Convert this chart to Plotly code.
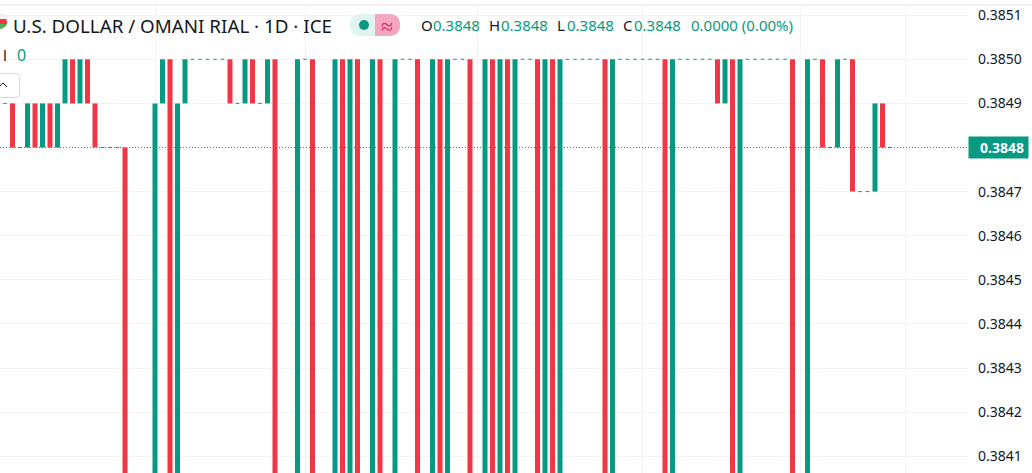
import plotly.graph_objects as go

GREEN = '#089981'
RED = '#F23645'
GRID = '#f3f3f4'
INK = '#131722'
LOW = 0.3840  # the deep bars run off the bottom, level is a guess

first_open = 0.3849
closes = [
    0.3849, 0.3848, 0.3848, 0.3849, 0.3848, 0.3849, 0.3848, 0.3849, 0.3850, 0.3849,
    0.3850, 0.3849, 0.3848, 0.3848, 0.3848, 0.3848, LOW, LOW, LOW, LOW,
    0.3849, 0.3850, LOW, 0.3849, 0.3850, 0.3850, 0.3850, 0.3850, 0.3850, 0.3850,
    0.3849, 0.3849, 0.3850, 0.3849, 0.3849, 0.3850, LOW, LOW, LOW, 0.3850,
    0.3850, LOW, LOW, LOW, 0.3850, LOW, 0.3850, LOW, LOW, 0.3850,
    LOW, LOW, 0.3850, 0.3850, 0.3850, LOW, LOW, 0.3850, LOW, 0.3850,
    0.3850, 0.3850, LOW, LOW, 0.3850, LOW, 0.3850, LOW, 0.3850, 0.3850,
    0.3850, LOW, 0.3850, LOW, 0.3850, 0.3850, 0.3850, 0.3850, 0.3850, 0.3850,
    LOW, 0.3850, 0.3850, 0.3850, 0.3850, 0.3850, 0.3850, 0.3850, LOW, 0.3850,
    0.3850, 0.3850, 0.3850, 0.3850, 0.3850, 0.3849, 0.3850, LOW, 0.3850, 0.3850,
    0.3850, 0.3850, 0.3850, 0.3850, 0.3850, LOW, LOW, 0.3850, 0.3850, 0.3848,
    0.3848, 0.3850, 0.3850, 0.3847, 0.3847, 0.3847, 0.3849, 0.3848, 0.3848,
]
opens = [first_open] + closes[:-1]
days = list(range(len(closes)))

# 0.3848 is left out, the last price tag sits on that level
price_ticks = [0.3841, 0.3842, 0.3843, 0.3844, 0.3845, 0.3846, 0.3847, 0.3849, 0.3850, 0.3851]
grid_days = [20, 40, 63, 85, 106, 120]
last_price = 0.3848

W, H = 1032, 473
RIGHT = 968
TOP = 5


def px(x):
    return x / RIGHT


def py(y):
    return 1 - (y - TOP) / (H - TOP)


def label(text, x, y, color=INK, size=15, anchor='left', family='Noto Sans'):
    return dict(text=text, x=px(x), y=py(y), xref='paper', yref='paper', showarrow=False,
                xanchor=anchor, yanchor='middle', align='left', borderpad=0,
                font=dict(family=family, size=size, color=color))


def pick(keep):
    idx = [i for i in days if keep(opens[i], closes[i])]
    return dict(x=[days[i] for i in idx],
                base=[min(opens[i], closes[i]) for i in idx],
                y=[abs(opens[i] - closes[i]) for i in idx])


fig = go.Figure()
fig.add_trace(go.Bar(**pick(lambda o, c: c > o), width=0.667, marker=dict(color=GREEN, line=dict(width=0))))
fig.add_trace(go.Bar(**pick(lambda o, c: c < o), width=0.667, marker=dict(color=RED, line=dict(width=0))))

flat = [i for i in days if opens[i] == closes[i]]
fig.add_trace(go.Scatter(
    x=[days[i] for i in flat], y=[closes[i] for i in flat], mode='markers',
    marker=dict(symbol='line-ew', size=2.5, line=dict(color=GREEN, width=1)),
))

shapes = [
    dict(type='line', xref='paper', yref='y', x0=0, x1=1, y0=last_price, y1=last_price,
         line=dict(color=GREEN, width=1, dash='1px,2px'), layer='above'),
    dict(type='line', xref='paper', yref='paper', x0=0, x1=W / RIGHT, y0=1, y1=1,
         line=dict(color='#e0e3eb', width=1)),
    # legend backdrop hides the grid under the text
    dict(type='rect', xref='paper', yref='paper', x0=px(0), x1=px(31), y0=py(68), y1=py(46),
         fillcolor='white', line=dict(width=0), layer='below'),
    # status pill
    dict(type='path', xref='paper', yref='paper', fillcolor='#dff3ef', line=dict(width=0),
         path=f'M {px(375)} {py(14)} L {px(361)} {py(14)} Q {px(350)} {py(14)} {px(350)} {py(25)} '
              f'Q {px(350)} {py(36)} {px(361)} {py(36)} L {px(375)} {py(36)} Z'),
    dict(type='path', xref='paper', yref='paper', fillcolor='#f3a6c0', line=dict(width=0),
         path=f'M {px(375)} {py(14)} L {px(389)} {py(14)} Q {px(400)} {py(14)} {px(400)} {py(25)} '
              f'Q {px(400)} {py(36)} {px(389)} {py(36)} L {px(375)} {py(36)} Z'),
    dict(type='circle', xref='paper', yref='paper', x0=px(359), x1=px(369), y0=py(30), y1=py(20),
         fillcolor=GREEN, line=dict(width=0)),
    # collapse button, cut off at the left edge
    dict(type='path', xref='paper', yref='paper', fillcolor='white', line=dict(color='#d6d8de', width=1),
         path=f'M {px(-4)} {py(73.5)} L {px(16)} {py(73.5)} Q {px(19.5)} {py(73.5)} {px(19.5)} {py(77)} '
              f'L {px(19.5)} {py(94)} Q {px(19.5)} {py(97.5)} {px(16)} {py(97.5)} L {px(-4)} {py(97.5)} Z'),
    dict(type='path', xref='paper', yref='paper', line=dict(color=INK, width=1),
         path=f'M {px(-1)} {py(87)} L {px(3)} {py(83)} L {px(7)} {py(87)}'),
    # flag, mostly off the left edge
    dict(type='circle', xref='paper', yref='paper', x0=px(-7.5), x1=px(7.5), y0=py(29), y1=py(14),
         fillcolor='#fbf3f4', line=dict(color='#eadfe1', width=1)),
    dict(type='path', xref='paper', yref='paper', fillcolor=RED, line=dict(width=0),
         path=f'M {px(0)} {py(19)} L {px(6)} {py(19)} Q {px(7.3)} {py(21)} {px(7)} {py(24)} L {px(0)} {py(24)} Z'),
    dict(type='path', xref='paper', yref='paper', fillcolor='#4caf50', line=dict(width=0),
         path=f'M {px(0)} {py(24)} L {px(7)} {py(24)} Q {px(5.5)} {py(27.5)} {px(0)} {py(29)} Z'),
]

annotations = [
    label('U.S. DOLLAR / OMANI RIAL · 1D · ICE', 12, 26, size=18.8),
    label('≈', 387, 25, color='#e0245e', size=22, anchor='center'),
    label('l', 2, 55),
    label('0', 16, 55, color=GREEN, size=16),
    label('O', 420, 25),
    label('0.3848', 432, 25, color=GREEN),
    label('H', 488, 25),
    label('0.3848', 500, 25, color=GREEN),
    label('L', 556, 25),
    label('0.3848', 566, 25, color=GREEN),
    label('C', 622, 25),
    label('0.3848', 633, 25, color=GREEN),
    label('0.0000 (0.00%)', 690, 25, color=GREEN),
    dict(text='<b>0.3848</b>', x=px(RIGHT), y=last_price, xref='paper', yref='y', showarrow=False,
         xanchor='left', yanchor='middle', width=51, height=13, bgcolor=GREEN, borderpad=4,
         align='right', font=dict(family='Noto Sans', size=14, color='white')),
]

fig.update_layout(
    width=W, height=H,
    margin=dict(l=0, r=W - RIGHT, t=TOP, b=0, autoexpand=False),
    paper_bgcolor='white', plot_bgcolor='white',
    showlegend=False, barmode='overlay',
    shapes=shapes, annotations=annotations,
)
fig.update_xaxes(range=[-2 / 3, (RIGHT - 5) / 7.5], tickvals=grid_days, showticklabels=False, ticks='',
                 showgrid=True, gridcolor=GRID, gridwidth=1, zeroline=False, showline=False)
fig.update_yaxes(range=[0.3840619, 0.38512313], side='right', tickvals=price_ticks, tickformat='.4f',
                 showgrid=True, gridcolor=GRID, gridwidth=1, zeroline=False, showline=False, ticks='',
                 ticklabelstandoff=9, tickfont=dict(family='Noto Sans', size=14, color=INK))

# the page's default body margin would push the chart 8px in
fig.write_html('out.html', config={'displayModeBar': False},
               post_script="document.body.style.margin='0';")
